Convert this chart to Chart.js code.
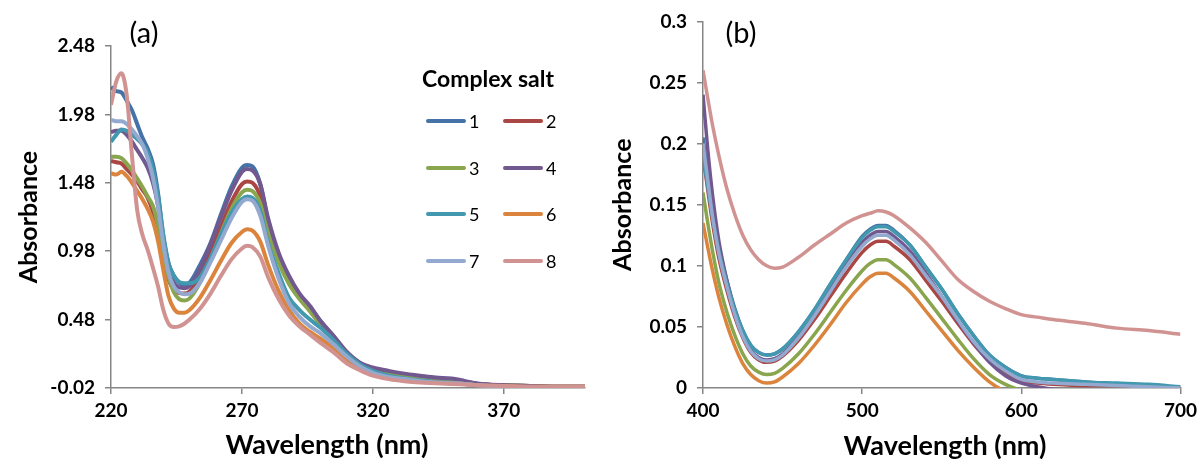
<!DOCTYPE html>
<html>
<head>
<meta charset="utf-8">
<script src="https://cdn.jsdelivr.net/npm/chart.js@4.4.1/dist/chart.umd.min.js"></script>
<style>
    body { margin: 0; background: #fff; }
    .row { display: flex; width: 1202px; height: 463px; }
    canvas { display: block; }
</style>
</head>
<body>
<div class="row">
    <canvas id="chartA" width="600" height="463"></canvas>
    <canvas id="chartB" width="602" height="463"></canvas>
</div>
<script>
const seriesNames = ['1', '2', '3', '4', '5', '6', '7', '8'];
const seriesColors = ['#4572A7', '#AA4643', '#89A54E', '#71588F', '#4198AF', '#DB843D', '#93A9CF', '#D19392'];

// panel (a): UV region
const wavelengthsA = [220, 222, 224, 226, 228, 230, 232, 234, 236, 238, 240, 242, 244, 246, 248, 250, 254, 258, 262, 266,
    270, 272, 274, 277, 280, 284, 288, 292, 296, 300, 305, 310, 315, 320, 326, 332, 338, 344, 350, 355, 360, 370, 380, 390, 401];
const absA1 = [2.18, 2.15, 2.14, 2.08, 2.01, 1.91, 1.81, 1.73, 1.62, 1.40, 1.08, 0.89, 0.80, 0.75, 0.735, 0.75, 0.88, 1.04, 1.25, 1.45,
    1.59, 1.61, 1.60, 1.47, 1.20, 0.95, 0.78, 0.66, 0.57, 0.47, 0.36, 0.24, 0.165, 0.125, 0.095, 0.075, 0.06, 0.048, 0.042, 0.026, 0.01, 0.0, -0.005, -0.01, -0.01];
const absA2 = [1.64, 1.63, 1.62, 1.58, 1.54, 1.49, 1.43, 1.37, 1.27, 1.12, 0.92, 0.77, 0.70, 0.675, 0.67, 0.685, 0.80, 0.97, 1.16, 1.34,
    1.47, 1.49, 1.48, 1.38, 1.15, 0.91, 0.75, 0.64, 0.55, 0.45, 0.34, 0.225, 0.155, 0.115, 0.09, 0.07, 0.055, 0.045, 0.04, 0.025, 0.01, 0.0, -0.005, -0.01, -0.01];
const absA3 = [1.67, 1.67, 1.66, 1.62, 1.57, 1.51, 1.45, 1.38, 1.31, 1.17, 0.97, 0.79, 0.68, 0.63, 0.62, 0.635, 0.75, 0.92, 1.11, 1.29,
    1.41, 1.43, 1.42, 1.33, 1.12, 0.90, 0.74, 0.63, 0.54, 0.44, 0.33, 0.22, 0.15, 0.11, 0.085, 0.065, 0.05, 0.04, 0.035, 0.02, 0.008, 0.0, -0.005, -0.01, -0.01];
const absA4 = [1.85, 1.86, 1.86, 1.83, 1.78, 1.72, 1.66, 1.59, 1.48, 1.31, 1.06, 0.85, 0.75, 0.715, 0.71, 0.725, 0.85, 1.03, 1.23, 1.42,
    1.56, 1.58, 1.57, 1.47, 1.22, 0.97, 0.80, 0.67, 0.58, 0.47, 0.36, 0.245, 0.165, 0.13, 0.105, 0.085, 0.07, 0.056, 0.05, 0.032, 0.013, 0.0, -0.005, -0.01, -0.01];
const absA5 = [1.78, 1.83, 1.87, 1.86, 1.83, 1.80, 1.76, 1.70, 1.58, 1.38, 1.10, 0.89, 0.80, 0.755, 0.745, 0.745, 0.79, 0.93, 1.10, 1.26,
    1.36, 1.38, 1.37, 1.27, 1.04, 0.82, 0.64, 0.55, 0.48, 0.42, 0.33, 0.23, 0.155, 0.105, 0.07, 0.05, 0.035, 0.024, 0.018, 0.01, 0.0, -0.01, -0.015, -0.018, -0.02];
const absA6 = [1.55, 1.54, 1.56, 1.53, 1.48, 1.42, 1.36, 1.29, 1.20, 1.05, 0.84, 0.65, 0.56, 0.53, 0.53, 0.55, 0.64, 0.77, 0.91, 1.04,
    1.12, 1.14, 1.13, 1.05, 0.88, 0.69, 0.55, 0.45, 0.39, 0.34, 0.27, 0.18, 0.12, 0.08, 0.05, 0.035, 0.025, 0.02, 0.015, 0.01, 0.0, -0.005, -0.01, -0.01, -0.01];
const absA7 = [1.94, 1.93, 1.93, 1.91, 1.87, 1.82, 1.76, 1.66, 1.52, 1.30, 1.03, 0.82, 0.72, 0.68, 0.665, 0.67, 0.75, 0.90, 1.06, 1.22,
    1.34, 1.36, 1.35, 1.24, 1.02, 0.78, 0.60, 0.50, 0.43, 0.38, 0.30, 0.21, 0.14, 0.09, 0.06, 0.045, 0.03, 0.02, 0.015, 0.01, 0.0, -0.01, -0.015, -0.02, -0.025];
const absA8 = [2.05, 2.22, 2.28, 2.12, 1.68, 1.28, 1.10, 0.99, 0.86, 0.72, 0.55, 0.45, 0.425, 0.43, 0.45, 0.48, 0.56, 0.67, 0.80, 0.92,
    1.00, 1.02, 1.01, 0.94, 0.79, 0.63, 0.51, 0.43, 0.37, 0.31, 0.24, 0.16, 0.11, 0.07, 0.045, 0.03, 0.02, 0.015, 0.01, 0.005, 0.0, -0.005, -0.01, -0.01, -0.01];
const xTicksA = [220, 270, 320, 370];
const yTicksA = [-0.02, 0.48, 0.98, 1.48, 1.98, 2.48];

// panel (b): visible region
const wavelengthsB = [400, 403, 406, 410, 415, 420, 425, 430, 435, 440, 445, 450, 460, 470, 480, 490, 500, 505, 510, 515,
    520, 530, 540, 550, 560, 570, 580, 590, 600, 610, 620, 640, 660, 680, 700];
const absB1 = [0.205, 0.175, 0.145, 0.115, 0.088, 0.065, 0.047, 0.035, 0.029, 0.027, 0.028, 0.032, 0.046, 0.064, 0.085, 0.105, 0.124, 0.130, 0.133, 0.133,
    0.129, 0.117, 0.099, 0.081, 0.061, 0.043, 0.027, 0.017, 0.010, 0.008, 0.007, 0.005, 0.003, 0.002, 0.0];
const absB2 = [0.19, 0.162, 0.135, 0.106, 0.08, 0.058, 0.041, 0.029, 0.023, 0.021, 0.022, 0.026, 0.039, 0.056, 0.075, 0.094, 0.111, 0.117, 0.120, 0.120,
    0.116, 0.105, 0.088, 0.071, 0.053, 0.036, 0.022, 0.012, 0.006, 0.004, 0.003, 0.002, 0.002, 0.001, 0.001];
const absB3 = [0.16, 0.135, 0.112, 0.086, 0.062, 0.043, 0.028, 0.018, 0.013, 0.011, 0.012, 0.016, 0.028, 0.044, 0.062, 0.08, 0.096, 0.102, 0.105, 0.105,
    0.101, 0.09, 0.074, 0.057, 0.04, 0.024, 0.011, 0.003, -0.002, -0.005, -0.007, -0.009, -0.01, -0.011, -0.012];
const absB4 = [0.24, 0.195, 0.158, 0.12, 0.088, 0.063, 0.044, 0.031, 0.025, 0.023, 0.024, 0.028, 0.042, 0.060, 0.081, 0.101, 0.119, 0.125, 0.128, 0.128,
    0.124, 0.112, 0.094, 0.075, 0.055, 0.037, 0.021, 0.010, 0.004, 0.001, -0.001, -0.002, -0.003, -0.003, -0.004];
const absB5 = [0.19, 0.165, 0.14, 0.112, 0.086, 0.064, 0.047, 0.035, 0.029, 0.027, 0.028, 0.032, 0.046, 0.064, 0.085, 0.105, 0.123, 0.129, 0.132, 0.132,
    0.128, 0.117, 0.099, 0.081, 0.061, 0.043, 0.027, 0.017, 0.010, 0.008, 0.007, 0.005, 0.004, 0.003, 0.001];
const absB6 = [0.135, 0.115, 0.096, 0.074, 0.052, 0.034, 0.02, 0.011, 0.006, 0.004, 0.005, 0.009, 0.02, 0.035, 0.052, 0.07, 0.085, 0.091, 0.094, 0.094,
    0.09, 0.079, 0.063, 0.047, 0.031, 0.017, 0.005, -0.003, -0.008, -0.01, -0.011, -0.012, -0.013, -0.013, -0.014];
const absB7 = [0.20, 0.17, 0.14, 0.11, 0.083, 0.06, 0.042, 0.03, 0.024, 0.022, 0.023, 0.027, 0.041, 0.059, 0.079, 0.099, 0.116, 0.122, 0.125, 0.125,
    0.121, 0.109, 0.092, 0.075, 0.056, 0.038, 0.024, 0.014, 0.007, 0.005, 0.004, 0.003, 0.002, 0.001, 0.0];
const absB8 = [0.26, 0.237, 0.215, 0.19, 0.163, 0.142, 0.125, 0.113, 0.105, 0.1, 0.098, 0.099, 0.107, 0.117, 0.126, 0.135, 0.141, 0.143, 0.145, 0.144,
    0.141, 0.131, 0.119, 0.104, 0.089, 0.079, 0.071, 0.065, 0.06, 0.058, 0.056, 0.053, 0.049, 0.047, 0.044];
const xTicksB = [400, 500, 600, 700];
const yTicksB = [0, 0.05, 0.1, 0.15, 0.2, 0.25, 0.3];

const axisGrey = '#868686';
const fontFamily = 'Lato, "Open Sans", sans-serif';

// free text: panel letters and x axis titles
const textPlugin = {
    id: 'freeText',
    afterDraw(chart, args, opts) {
        const ctx = chart.ctx;
        ctx.save();
        ctx.fillStyle = '#000';
        ctx.textBaseline = 'middle';
        (opts.items || []).forEach(function (t) {
            ctx.font = t.font;
            ctx.textAlign = 'center';
            ctx.fillText(t.text, t.x, t.y);
        });
        ctx.restore();
    }
};

// two column legend with a title, as in the original figure
const gridLegend = {
    id: 'gridLegend',
    afterDraw(chart, args, opts) {
        if (!opts.show) return;
        const ctx = chart.ctx;
        ctx.save();
        ctx.fillStyle = '#000';
        ctx.textBaseline = 'middle';
        ctx.textAlign = 'center';
        ctx.font = 'bold 23px ' + fontFamily;
        ctx.fillText(opts.title, opts.titleX, opts.titleY);
        ctx.font = '18px ' + fontFamily;
        ctx.textAlign = 'left';
        ctx.lineCap = 'round';
        chart.data.datasets.forEach(function (ds, i) {
            const x = opts.colX[i % 2];
            const y = opts.rowY[Math.floor(i / 2)];
            ctx.strokeStyle = ds.borderColor;
            ctx.lineWidth = 4;
            ctx.beginPath();
            ctx.moveTo(x, y);
            ctx.lineTo(x + 36, y);
            ctx.stroke();
            ctx.fillText(ds.label, x + 41, y + 1);
        });
        ctx.restore();
    }
};

function makeDatasets(xs, lists, width) {
    return lists.map(function (ys, i) {
        return {
            label: seriesNames[i],
            data: xs.map(function (x, j) { return { x: x, y: ys[j] }; }),
            borderColor: seriesColors[i],
            borderWidth: width,
            pointRadius: 0,
            cubicInterpolationMode: 'monotone',
            borderJoinStyle: 'round',
            order: lists.length - i,
        };
    });
}

function makeOptions(cfg) {
    return {
        responsive: false,
        animation: false,
        layout: { padding: cfg.padding },
        plugins: {
            legend: { display: false },
            tooltip: { enabled: false },
            freeText: { items: cfg.texts },
            gridLegend: cfg.legend,
        },
        scales: {
            x: {
                type: 'linear',
                min: cfg.xMin,
                max: cfg.xMax,
                afterBuildTicks: function (scale) { scale.ticks = cfg.xTicks.map(function (v) { return { value: v }; }); },
                afterFit: function (scale) { scale.height = 75; },
                border: { color: axisGrey, width: 1.5 },
                grid: { drawOnChartArea: false, drawTicks: true, tickLength: 6, color: axisGrey, lineWidth: 1.5 },
                ticks: { color: '#000', padding: 5, maxRotation: 0, font: { family: fontFamily, size: 19, weight: 'bold' } },
            },
            y: {
                min: cfg.yMin,
                max: cfg.yMax,
                afterBuildTicks: function (scale) { scale.ticks = cfg.yTicks.map(function (v) { return { value: v }; }); },
                afterFit: function (scale) { scale.width = cfg.yWidth; },
                border: { color: axisGrey, width: 1.5 },
                grid: { drawOnChartArea: false, drawTicks: true, tickLength: 6, color: axisGrey, lineWidth: 1.5 },
                ticks: {
                    color: '#000',
                    padding: 10,
                    font: { family: fontFamily, size: 19, weight: 'bold' },
                    callback: cfg.yFormat,
                },
                title: {
                    display: true,
                    text: 'Absorbance',
                    color: '#000',
                    padding: { top: cfg.yTitlePad, bottom: 0 },
                    font: { family: fontFamily, size: 25, weight: 'bold' },
                },
            },
        },
    };
}

document.addEventListener('DOMContentLoaded', function () {
    new Chart(document.getElementById('chartA').getContext('2d'), {
        type: 'line',
        data: { datasets: makeDatasets(wavelengthsA, [absA1, absA2, absA3, absA4, absA5, absA6, absA7, absA8], 4) },
        options: makeOptions({
            padding: { top: 46, right: 15, left: 0, bottom: 0 },
            xMin: 220, xMax: 401, xTicks: xTicksA,
            yMin: -0.02, yMax: 2.48, yTicks: yTicksA, yWidth: 111, yTitlePad: 14,
            yFormat: function (v) { return v.toFixed(2); },
            texts: [
                { text: '(a)', x: 144, y: 34, font: '29px ' + fontFamily },
                { text: 'Wavelength (nm)', x: 327, y: 445, font: 'bold 27px ' + fontFamily },
            ],
            legend: { show: true, title: 'Complex salt', titleX: 488, titleY: 80, colX: [428, 505], rowY: [121, 168, 214, 261] },
        }),
        plugins: [textPlugin, gridLegend],
    });

    new Chart(document.getElementById('chartB').getContext('2d'), {
        type: 'line',
        data: { datasets: makeDatasets(wavelengthsB, [absB1, absB2, absB3, absB4, absB5, absB6, absB7, absB8], 3.5) },
        options: makeOptions({
            padding: { top: 21, right: 16, left: 0, bottom: 0 },
            xMin: 400, xMax: 700, xTicks: xTicksB,
            yMin: 0, yMax: 0.3, yTicks: yTicksB, yWidth: 103, yTitlePad: 8,
            yFormat: function (v) { return String(+v.toFixed(2)); },
            texts: [
                { text: '(b)', x: 141, y: 34, font: '29px ' + fontFamily },
                { text: 'Wavelength (nm)', x: 345, y: 446, font: 'bold 27px ' + fontFamily },
            ],
            legend: { show: false },
        }),
        plugins: [textPlugin, gridLegend],
    });
});
</script>
</body>
</html>
